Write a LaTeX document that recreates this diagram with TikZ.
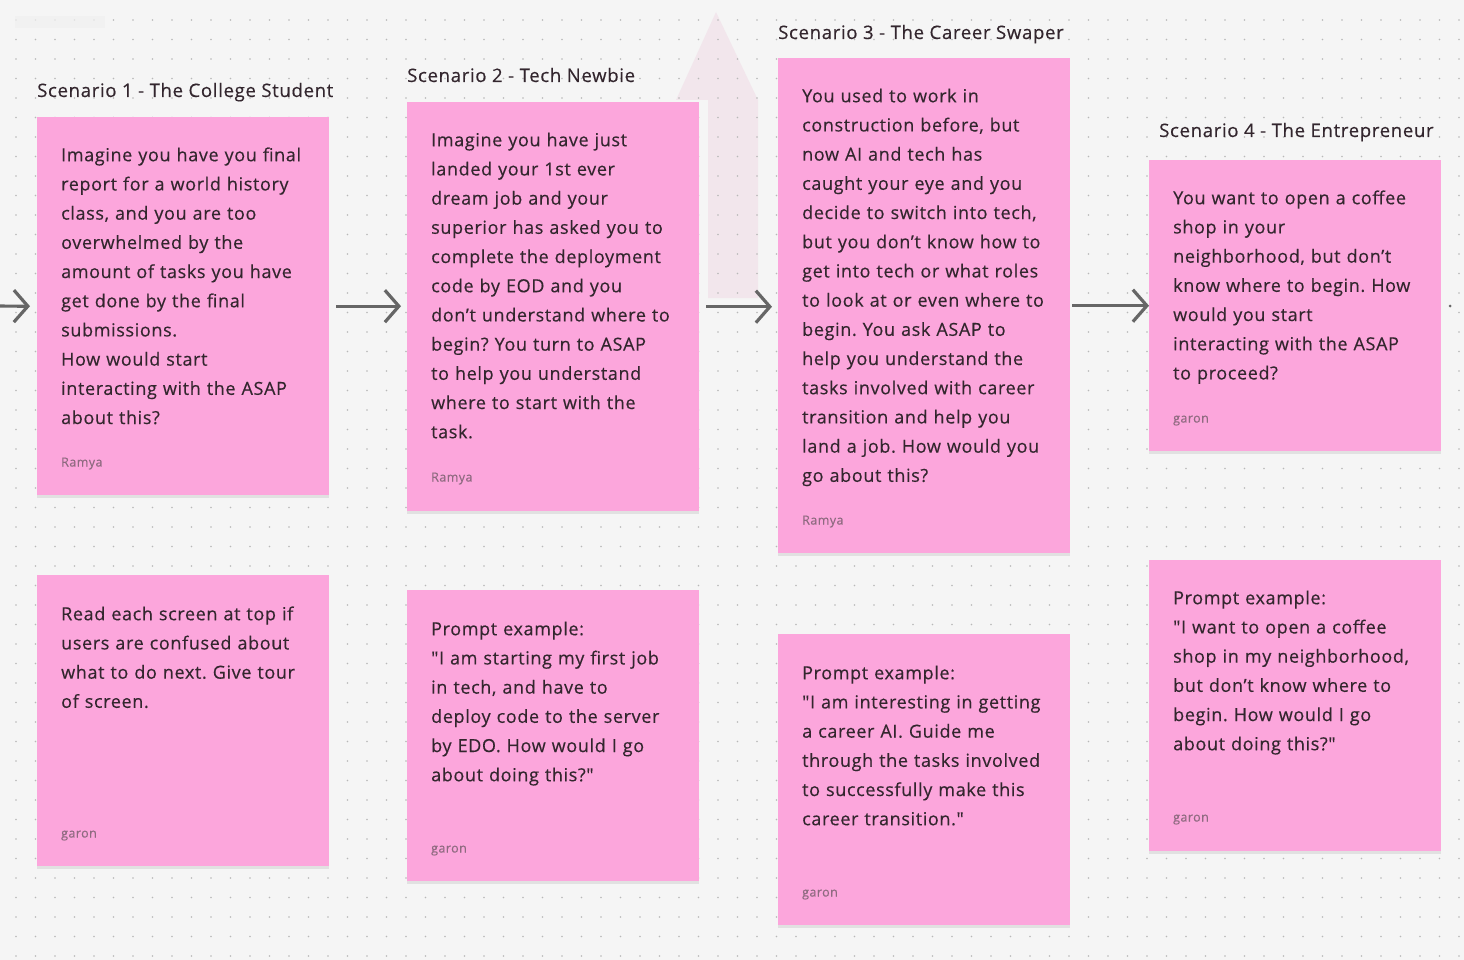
\documentclass[tikz,border=0pt]{standalone}
\usepackage{fontspec}
\setmainfont{Open Sans}[Ligatures=TeXOff, LetterSpace=3.5, FakeBold=0.35]
\frenchspacing
\usetikzlibrary{arrows.meta,shadows}
\definecolor{bg}{HTML}{F5F5F5}
\definecolor{notepink}{HTML}{FCA6DC}
\definecolor{ink}{HTML}{33262E}
\definecolor{authorc}{HTML}{8E6A80}
\definecolor{dotc}{HTML}{B8B8B8}
\definecolor{arrowc}{HTML}{666666}
\definecolor{ghost}{HTML}{F1E2EA}
\newcommand\stickynote[9]{%
  \node[note, minimum width=#4, minimum height=#5] (#1) at (#2,#3) {};
  \node[body] (#1t) at (#2+24,#6-14.4) {\strut #7};
  \node[who] (#1a) at (#2+24,#9+4.5) {#8};
}
\begin{document}
\begin{tikzpicture}[x=1pt,y=-1pt,
  note/.style={fill=notepink, draw=none, anchor=north west, inner sep=0pt,
    drop shadow={shadow xshift=0pt, shadow yshift=-2.5pt, opacity=0.08, fill=black}},
  body/.style={anchor=north west, inner sep=0pt, text width=285pt, align=left,
    text=ink, font=\fontsize{18}{29.2}\selectfont},
  who/.style={anchor=base west, inner sep=0pt, text=authorc, font=\fontsize{12.5}{15}\selectfont},
  title/.style={anchor=base west, inner sep=0pt, text=ink, font=\fontsize{18.6}{22}\selectfont},
  flow/.style={draw=arrowc, line width=3.2pt, -{Straight Barb[length=14pt,width=32pt,line width=3.2pt]}}]
\fill[bg] (0,0) rectangle (1464,960);
\useasboundingbox (0,0) rectangle (1464,960);
% faint up arrow
\fill[ghost, opacity=0.75] (716,12) -- (758,100) -- (758,298) -- (708,298) -- (708,100) -- (676,100) -- cycle;
\foreach \i in {0,...,74}{\foreach \j in {0,...,48}{\fill[dotc] (16+19.5*\i,20+19.5*\j) circle[radius=0.85pt];}}
\fill[black!6, opacity=0.7] (15,16) rectangle (105,28);
% titles
\node[title] (t1) at (37,97) {Scenario 1 - The College Student};
\node[title] (t2) at (407,82) {Scenario 2 - Tech Newbie};
\node[title] (t3) at (778,39) {Scenario 3 - The Career Swaper};
\node[title] (t4) at (1159,137) {Scenario 4 - The Entrepreneur};
% notes
\stickynote{n1}{37}{117}{292pt}{378pt}{155}{Imagine you have you final\\report for a world history\\class, and you are too\\overwhelmed by the\\amount of tasks you have\\get done by the final\\submissions.\\How would start\\interacting with the ASAP\\about this?}{Ramya}{462}
\stickynote{n2}{37}{575}{292pt}{291pt}{614}{Read each screen at top if\\users are confused about\\what to do next. Give tour\\of screen.}{garon}{833}
\stickynote{n3}{407}{102}{292pt}{409pt}{140}{Imagine you have just\\landed your 1st ever\\dream job and your\\superior has asked you to\\complete the deployment\\code by EOD and you\\don’t understand where to\\begin? You turn to ASAP\\to help you understand\\where to start with the\\task.}{Ramya}{477}
\stickynote{n4}{407}{590}{292pt}{291pt}{629}{Prompt example:\\"I am starting my first job\\in tech, and have to\\deploy code to the server\\by EDO. How would I go\\about doing this?"}{garon}{848}
\stickynote{n5}{778}{58}{292pt}{495pt}{96}{You used to work in\\construction before, but\\now AI and tech has\\caught your eye and you\\decide to switch into tech,\\but you don’t know how to\\get into tech or what roles\\to look at or even where to\\begin. You ask ASAP to\\help you understand the\\tasks involved with career\\transition and help you\\land a job. How would you\\go about this?}{Ramya}{520}
\stickynote{n6}{778}{634}{292pt}{291pt}{673}{Prompt example:\\"I am interesting in getting\\a career AI. Guide me\\through the tasks involved\\to successfully make this\\career transition."}{garon}{892}
\stickynote{n7}{1149}{160}{292pt}{291pt}{198}{You want to open a coffee\\shop in your\\neighborhood, but don’t\\know where to begin. How\\would you start\\interacting with the ASAP\\to proceed?}{garon}{418}
\stickynote{n8}{1149}{560}{292pt}{291pt}{598}{Prompt example:\\"I want to open a coffee\\shop in my neighborhood,\\but don’t know where to\\begin. How would I go\\about doing this?"}{garon}{817}
% connectors
\coordinate (lft) at (-20,306);
\coordinate (rgt) at (1450,306);
\draw[flow] (lft) -- ([xshift=-7pt]n1.west);
\draw[flow] ([xshift=7pt]n1.east) -- ([xshift=-6pt]n3.west |- n1.east);
\draw[flow] ([xshift=7pt]n3.east) -- ([xshift=-6pt]n5.west |- n3.east);
\draw[flow] ([xshift=2pt]n5.east) -- ([xshift=0pt]n7.west |- n5.east);
\fill[arrowc] (rgt) circle[radius=1.5pt];
\end{tikzpicture}
\end{document}
